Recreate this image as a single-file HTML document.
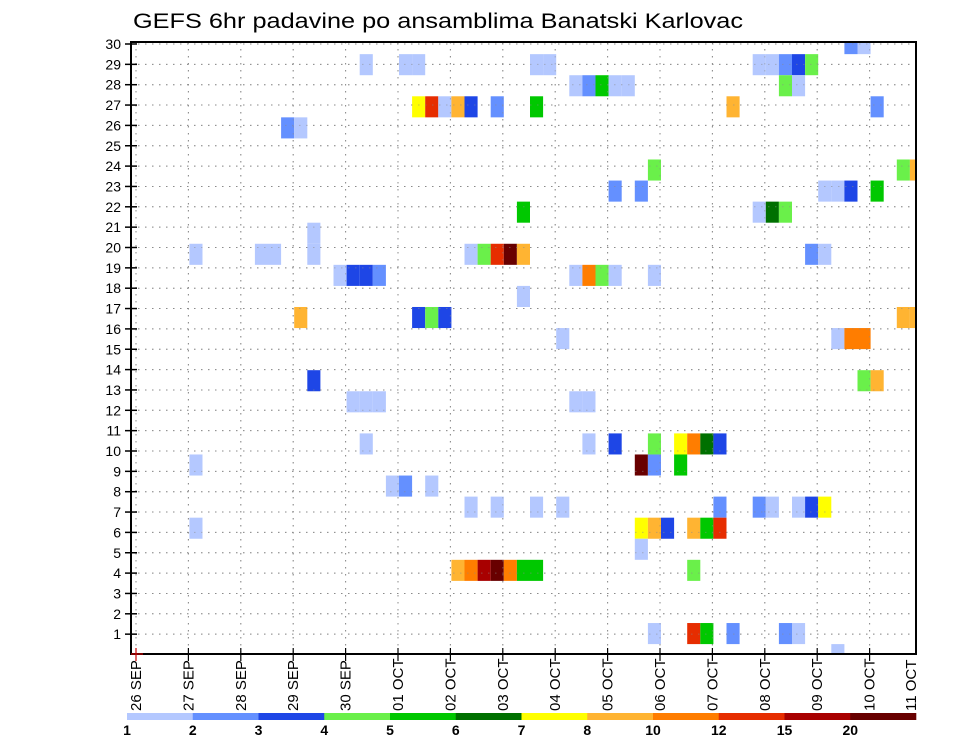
<!DOCTYPE html>
<html><head><meta charset="utf-8">
<style>
html,body{margin:0;padding:0;background:#fff;}
svg{display:block;font-family:"Liberation Sans",sans-serif;}
</style></head>
<body>
<svg id="chart" width="960" height="742" viewBox="0 0 960 742" xmlns="http://www.w3.org/2000/svg">
<text x="133" y="28" font-size="21" textLength="610" lengthAdjust="spacingAndGlyphs" fill="#000">GEFS 6hr padavine po ansamblima Banatski Karlovac</text>
<g id="grid"></g>
<g id="cells"></g>
<g id="axes"></g>
<g id="cbar"></g>
</svg>
<script>
const dayLabels = ["26 SEP","27 SEP","28 SEP","29 SEP","30 SEP","01 OCT","02 OCT","03 OCT","04 OCT","05 OCT","06 OCT","07 OCT","08 OCT","09 OCT","10 OCT","11 OCT"];
const yTickLabels = [1,2,3,4,5,6,7,8,9,10,11,12,13,14,15,16,17,18,19,20,21,22,23,24,25,26,27,28,29,30];
const levelBounds = [1,2,3,4,5,6,7,8,10,12,15,20];
const levelColors = ["#b4c8ff","#6490ff","#1e46e6","#6af04a","#00c800","#007000","#ffff00","#ffb432","#ff7d00","#e62d00","#a80000","#680000"];
// each cell: [ensemble member, 6h step index from 26 SEP 00Z, precipitation mm]
const cellData = [
 [30,54,2],[30,55,1],
 [29,17,1],[29,20,1],[29,21,1],[29,30,1],[29,31,1],[29,47,1],[29,48,1],[29,49,2],[29,50,3],[29,51,4],
 [28,33,1],[28,34,2],[28,35,5],[28,36,1],[28,37,1],[28,49,4],[28,50,1],
 [27,21,7],[27,22,12],[27,23,1],[27,24,8],[27,25,3],[27,27,2],[27,30,5],[27,45,8],[27,56,2],
 [26,11,2],[26,12,1],
 [24,39,4],[24,58,4],[24,59,8],
 [23,36,2],[23,38,2],[23,52,1],[23,53,1],[23,54,3],[23,56,5],
 [22,29,5],[22,47,1],[22,48,6],[22,49,4],
 [21,13,1],
 [20,4,1],[20,9,1],[20,10,1],[20,13,1],[20,25,1],[20,26,4],[20,27,12],[20,28,20],[20,29,8],[20,51,2],[20,52,1],
 [19,15,1],[19,16,3],[19,17,3],[19,18,2],[19,33,1],[19,34,10],[19,35,4],[19,36,1],[19,39,1],
 [18,29,1],
 [17,12,8],[17,21,3],[17,22,4],[17,23,3],[17,58,8],[17,59,8],
 [16,32,1],[16,53,1],[16,54,10],[16,55,10],
 [14,13,3],[14,55,4],[14,56,8],
 [13,16,1],[13,17,1],[13,18,1],[13,33,1],[13,34,1],
 [11,17,1],[11,34,1],[11,36,3],[11,39,4],[11,41,7],[11,42,10],[11,43,6],[11,44,3],
 [10,4,1],[10,38,20],[10,39,2],[10,41,5],
 [9,19,1],[9,20,2],[9,22,1],
 [8,25,1],[8,27,1],[8,30,1],[8,32,1],[8,44,2],[8,47,2],[8,48,1],[8,50,1],[8,51,3],[8,52,7],
 [7,4,1],[7,38,7],[7,39,8],[7,40,3],[7,42,8],[7,43,5],[7,44,12],
 [6,38,1],
 [5,24,8],[5,25,10],[5,26,15],[5,27,20],[5,28,10],[5,29,5],[5,30,5],[5,42,4],
 [2,39,1],[2,42,12],[2,43,5],[2,45,2],[2,49,2],[2,50,1],
 [1,53,1]
];
</script>
<script>
const NS="http://www.w3.org/2000/svg";
const X0=131,X1=916,Y0=42,Y1=654;
function xStep(s){return 136+s*13.1;}
function xDay(d){return xStep(d*4);}
function yLabel(n){return 654.5-n*20.35;}
function yMemberCenter(m){return 654.6-(m-1)*21.07;}
function colorFor(v){let i=0;for(let k=0;k<levelBounds.length;k++){if(v>=levelBounds[k])i=k;}return levelColors[i];}
function mk(tag,attrs,parent){const e=document.createElementNS(NS,tag);for(const k in attrs)e.setAttribute(k,attrs[k]);parent.appendChild(e);return e;}
const grid=document.getElementById('grid'),cells=document.getElementById('cells'),axes=document.getElementById('axes'),cbar=document.getElementById('cbar');
yTickLabels.forEach(n=>{const y=yLabel(n);
 const l=mk('line',{x1:X0,x2:X1,y1:y,y2:y,stroke:'#8a8a8a','stroke-width':1,'stroke-dasharray':'1.5,5.5'},grid);
 
 });
dayLabels.forEach((d,i)=>{const x=xDay(i);if(x>X1)return;
 const l=mk('line',{x1:x,x2:x,y1:Y0,y2:Y1,stroke:'#8a8a8a','stroke-width':1,'stroke-dasharray':'1.5,5.5'},grid);
 
 });
cellData.forEach(c=>{
 const m=c[0],s=c[1],v=c[2];
 const x=xStep(s)+1, w=13.1;
 let top=yMemberCenter(m)-10.5, bot=top+21.07;
 top=Math.max(top,Y0);bot=Math.min(bot,Y1);
 const x2=Math.min(x+w,X1);
 const r=mk('rect',{x:x,y:top,width:x2-x,height:bot-top,fill:colorFor(v)},cells);
 
 
});
const g2=grid.cloneNode(true);g2.setAttribute('opacity','0.5');


document.getElementById('chart').insertBefore(g2,axes);
const fr=mk('rect',{x:X0,y:Y0,width:X1-X0,height:Y1-Y0,fill:'none',stroke:'#000','stroke-width':2},axes);


yTickLabels.forEach(n=>{const y=yLabel(n);
 mk('line',{x1:125,x2:137,y1:y,y2:y,stroke:'#000','stroke-width':1.5},axes);
 const t=mk('text',{x:121,y:y+5,'font-size':14,'text-anchor':'end',fill:'#000'},axes);
 t.textContent=n;
 
 });
dayLabels.forEach((d,i)=>{const x=xDay(i);
 if(x<=X1+1) mk('line',{x1:x,x2:x,y1:Y1-6,y2:Y1+7,stroke:i===0?'#c00':'#000','stroke-width':1.2},axes);
 const tx=Math.min(x,911)+5;
 const t=mk('text',{x:tx,y:711,'font-size':15,transform:`rotate(-90 ${tx} 711)`,fill:'#000'},axes);
 t.textContent=d;
 
 });
mk('line',{x1:131,x2:143,y1:Y1,y2:Y1,stroke:'#c00','stroke-width':1.2},axes);
const cbX0=127,cbW=(916-127)/levelColors.length;
levelColors.forEach((c,i)=>{
 const r=mk('rect',{x:cbX0+i*cbW,y:713,width:cbW+0.3,height:7,fill:c},cbar);
 
 
 const t=mk('text',{x:cbX0+i*cbW,y:735,'font-size':14,'font-weight':'bold','text-anchor':'middle',fill:'#000'},cbar);
 t.textContent=levelBounds[i];
 
 });
</script>
</body></html>
